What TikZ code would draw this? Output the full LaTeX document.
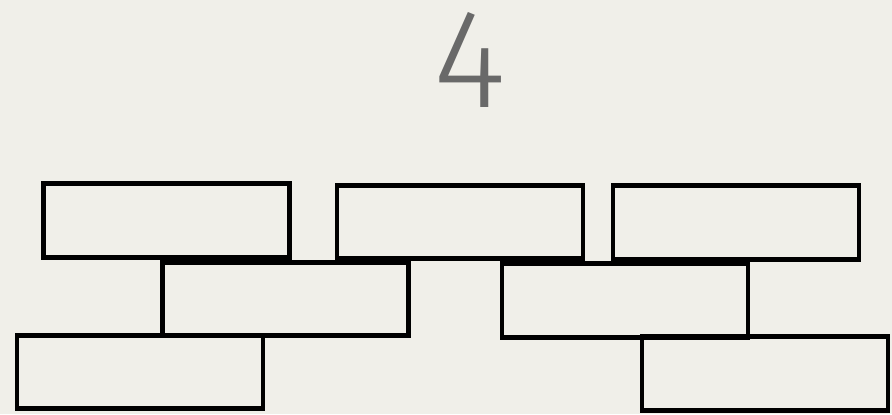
\documentclass[tikz,border=0pt]{standalone}
\usepackage{fontspec}
\newfontfamily\digitfont{Fira Sans Light}
\usetikzlibrary{positioning}
\definecolor{paper}{RGB}{240,239,233}
\definecolor{pencil}{RGB}{105,105,105}
\tikzset{brick/.style={draw,rectangle,line width=.12cm,minimum width=6.15cm,minimum height=1.83cm,inner sep=0pt},
px/.style={x=.025cm,y=-.025cm}}
\begin{document}
\begin{tikzpicture}[px]
\fill[paper](0,0)rectangle(892,414);\useasboundingbox(0,0)rectangle(892,414);
\node[pencil,font=\digitfont\fontsize{100}{100}\selectfont](four)at(470,60){4};
\node[brick](a)at(166.5,220.5){};\node[brick](b)at(460,222){};\node[brick](c)at(736,222.5){};
\node[brick](d)at(285.5,299){};\node[brick](e)at(625,300.5){};
\node[brick](f)at(140,372){};\node[brick](g)at(765,373.5){};
\end{tikzpicture}
\end{document}
